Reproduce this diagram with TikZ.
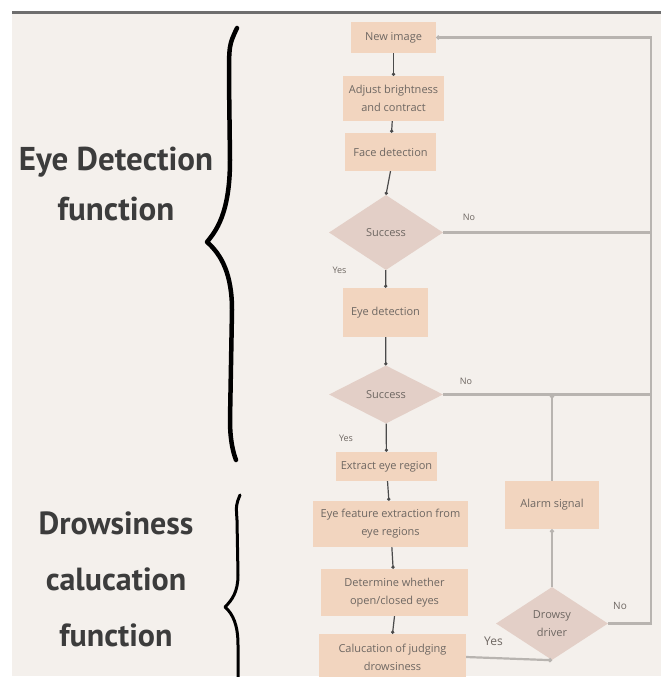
\documentclass[tikz,border=0pt]{standalone}
\usepackage{fontspec}
\setmainfont{Open Sans}
\newfontfamily\headfont{PT Sans}
\usetikzlibrary{shapes.geometric,arrows.meta}
\definecolor{bgc}{HTML}{F4F0EC}
\definecolor{boxc}{HTML}{F2D5BF}
\definecolor{diac}{HTML}{E3CFC7}
\definecolor{txtc}{HTML}{6E6762}
\definecolor{darkln}{HTML}{4A4A4A}
\definecolor{grayln}{HTML}{B8B4B0}
\definecolor{headc}{HTML}{3C3C3C}
\tikzset{
  boxn/.style={rectangle, fill=boxc, draw=none, inner sep=0pt, align=center,
    text=txtc, font=\fontsize{11}{18}\selectfont},
  dian/.style={diamond, fill=diac, draw=none, inner sep=0pt, align=center,
    text=txtc, font=\fontsize{11}{18}\selectfont},
  flow/.style={draw=darkln, line width=1.2pt, -{Circle[length=3.2pt]}},
  loopln/.style={draw=grayln, line width=2.2pt},
  looparr/.style={loopln, -{Circle[length=4pt,fill=darkln]}},
  lbl/.style={text=txtc, inner sep=0pt},
  head/.style={text=headc, align=center, inner sep=0pt, font=\headfont\bfseries},
  bracel/.style={draw=black, line cap=round, line join=round}
}
\begin{document}
\begin{tikzpicture}[x=1pt,y=-1pt]
\useasboundingbox (0,0) rectangle (661,677);
\fill[white] (0,0) rectangle (661,677);
\fill[bgc] (12,14) rectangle (661,676);
\draw[draw=darkln!80, line width=2.5pt] (12,12.5) -- (661,12.5);

% left headings
\node[head, font=\headfont\bfseries\fontsize{33}{50}\selectfont] (h1) at (116,184) {Eye Detection\\function};
\node[head, font=\headfont\bfseries\fontsize{32}{56}\selectfont] (h2) at (116,579) {Drowsiness\\calucation\\function};

% braces
\draw[bracel, line width=4.5pt] (237,28) .. controls (229,45) .. (229,80) -- (230,160)
  .. controls (230,215) and (215,232) .. (207,242)
  .. controls (222,255) and (232,275) .. (232,310) -- (230,420)
  .. controls (230,440) and (233,452) .. (236,460);
\draw[bracel, line width=3pt] (240,495) .. controls (236,505) .. (237,520) -- (238,575)
  .. controls (238,592) and (232,600) .. (225,607)
  .. controls (233,614) and (238,625) .. (238,645) -- (238,682);

% nodes
\node[boxn, minimum width=85, minimum height=31] (new) at (393.5,37.5) {New image};
\node[boxn, minimum width=101, minimum height=45] (adj) at (393.5,98.5) {Adjust brightness\\and contract};
\node[boxn, minimum width=91, minimum height=38] (face) at (390.5,152) {Face detection};
\node[dian, minimum width=114, minimum height=75] (s1) at (386,232.5) {Success};
\node[boxn, minimum width=85, minimum height=49] (eye) at (385.5,312.5) {Eye detection};
\node[dian, minimum width=114, minimum height=58] (s2) at (386,394.5) {Success};
\node[boxn, minimum width=101, minimum height=29] (ext) at (386.5,466.5) {Extract eye region};
\node[boxn, minimum width=155, minimum height=46] (feat) at (390.5,524) {Eye feature extraction from\\eye regions};
\node[boxn, minimum width=147, minimum height=47] (det) at (394.5,592.5) {Determine whether\\open/closed eyes};
\node[boxn, minimum width=147, minimum height=46] (calc) at (392.5,657) {Calucation of judging\\drowsiness};
\node[boxn, minimum width=94, minimum height=48] (alarm) at (552,505) {Alarm signal};
\node[dian, minimum width=112, minimum height=73] (drow) at (552,623.5) {Drowsy\\driver};

% labels
\node[lbl, font=\fontsize{9}{10}\selectfont] (no1) at (469,217) {No};
\node[lbl, font=\fontsize{9}{10}\selectfont] (yes1) at (339.5,270) {Yes};
\node[lbl, font=\fontsize{9}{10}\selectfont] (no2) at (466,381) {No};
\node[lbl, font=\fontsize{9}{10}\selectfont] (yes2) at (346,438) {Yes};
\node[lbl, font=\fontsize{10}{11}\selectfont] (no3) at (620,606) {No};
\node[lbl, font=\fontsize{12}{13}\selectfont] (yes3) at (493.5,641) {Yes};

% coordinates of the loop
\coordinate (cNE) at (651,37.5);
\coordinate (cSE) at (651,623.5);

% main flow
\draw[flow] (new) -- (adj);
\draw[flow] (adj) -- (face);
\draw[flow] (face.south) -- (s1.north);
\draw[flow] (s1) -- (eye);
\draw[flow] (eye) -- (s2);
\draw[flow] (s2) -- (ext);
\draw[flow] (ext) -- (feat);
\draw[flow] (feat) -- (det);
\draw[flow] (det.south) -- (calc.north);

% loops
\draw[loopln] (s1.east) -- (s1.east -| cNE);
\draw[loopln] (s2.east) -- (s2.east -| cNE);
\draw[looparr] (alarm.north) -- (alarm.north |- s2.east);
\draw[looparr] (drow.north) -- (alarm.south);
\draw[looparr] (calc.east) -- (drow.south);
\draw[looparr, line join=miter] (drow.east) -- (cSE) -- (cNE) -- (new.east);
\end{tikzpicture}
\end{document}
